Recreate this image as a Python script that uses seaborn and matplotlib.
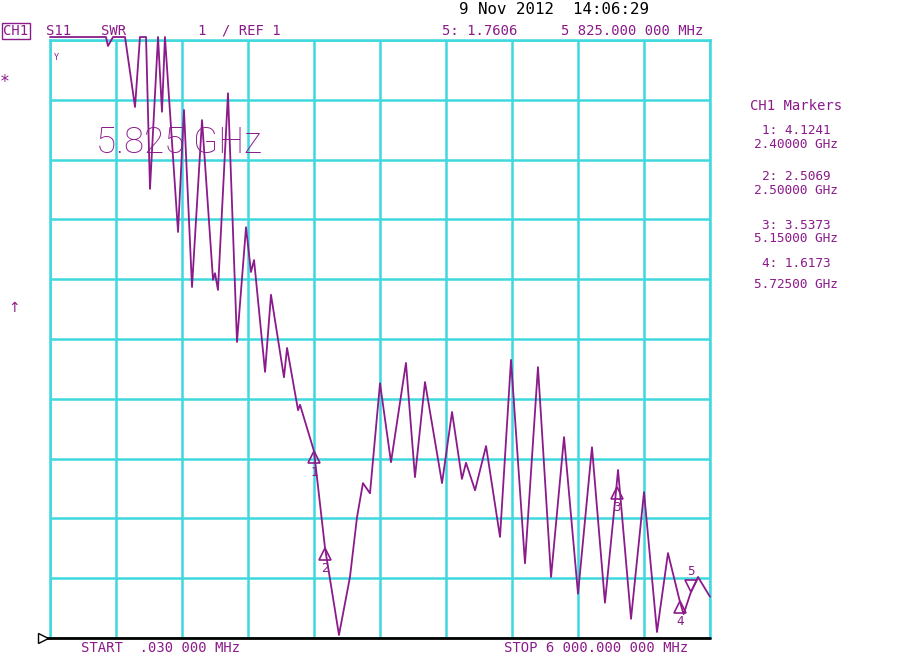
import numpy as np
import pandas as pd
import matplotlib
matplotlib.use("Agg")
import matplotlib.pyplot as plt
import matplotlib.transforms as mtransforms
import seaborn as sns

# trace: frequency (GHz) vs SWR (values >= 11 are off-scale)
freq_ghz = [0.0, 0.509, 0.527, 0.573, 0.682, 0.773, 0.818, 0.873, 0.909, 0.982,
            1.018, 1.045, 1.164, 1.218, 1.291, 1.382, 1.482, 1.50, 1.527, 1.618,
            1.700, 1.782, 1.827, 1.855, 1.955, 2.009, 2.127, 2.155, 2.255, 2.273,
            2.40, 2.50, 2.627, 2.727, 2.791, 2.845, 2.909, 3.0, 3.1, 3.236,
            3.318, 3.409, 3.564, 3.655, 3.745, 3.782, 3.864, 3.964, 4.091, 4.191,
            4.318, 4.436, 4.555, 4.673, 4.80, 4.927, 5.045, 5.15, 5.164, 5.282,
            5.40, 5.518, 5.618, 5.725, 5.76, 5.825, 5.891, 6.0]
swr = [11.2, 11.2, 10.9, 11.2, 11.2, 9.88, 11.2, 11.2, 8.51, 11.2,
       9.80, 11.2, 7.79, 9.83, 6.87, 9.66, 6.99, 7.10, 6.82, 10.11,
       5.95, 7.87, 7.12, 7.32, 5.45, 6.74, 5.36, 5.85, 4.81, 4.90,
       4.1241, 2.5069, 1.05, 2.02, 3.02, 3.59, 3.42, 5.26, 3.94, 5.60,
       3.69, 5.28, 3.59, 4.78, 3.66, 3.93, 3.47, 4.21, 2.69, 5.65,
       2.25, 5.53, 2.02, 4.36, 1.74, 4.19, 1.59, 3.5373, 3.81, 1.32,
       3.44, 1.10, 2.42, 1.6173, 1.40, 1.7606, 2.02, 1.69]

marker_ids = [1, 2, 3, 4, 5]
marker_freq = [2.40, 2.50, 5.15, 5.725, 5.825]
marker_swr = [4.1241, 2.5069, 3.5373, 1.6173, 1.7606]
marker_freq_labels = ["2.40000 GHz", "2.50000 GHz", "5.15000 GHz", "5.72500 GHz"]

purple = "#8b1a8b"
cyan = "#3fd8df"
mono = "DejaVu Sans Mono"

df = pd.DataFrame({"freq": freq_ghz, "swr": np.clip(swr, 1, 11.05)})

sns.set_style("white")
fig = plt.figure(figsize=(9, 6.54), dpi=100)
ax = fig.add_axes([50 / 900, 16 / 654, 660 / 900, 598 / 654])

sns.lineplot(data=df, x="freq", y="swr", ax=ax, color=purple, lw=1.3,
             clip_on=False, zorder=5)

ax.set_xlim(0, 6)
ax.set_ylim(1, 11)
ax.set_xticks(np.arange(0, 6.01, 0.6))
ax.set_yticks(np.arange(1, 11.01, 1))
ax.grid(True, color=cyan, lw=1.8)
ax.tick_params(length=0, labelbottom=False, labelleft=False)
ax.set_xlabel("")
ax.set_ylabel("")
for s in ["left", "right", "top"]:
    ax.spines[s].set_color(cyan)
    ax.spines[s].set_linewidth(1.8)
ax.spines["bottom"].set_visible(False)

# reference line and ref-level pointer
ax.plot([-0.065, 6], [1, 1], color="black", lw=2, clip_on=False, zorder=6)
ax.plot([-0.065], [1], marker=">", ms=7, mfc="white", mec="black", clip_on=False, zorder=7)

# marker triangles
up = mtransforms.offset_copy(ax.transData, fig=fig, x=0, y=-4.5, units="points")
up_lab = mtransforms.offset_copy(ax.transData, fig=fig, x=0, y=-15, units="points")
dn = mtransforms.offset_copy(ax.transData, fig=fig, x=0, y=4.5, units="points")
dn_lab = mtransforms.offset_copy(ax.transData, fig=fig, x=0, y=15, units="points")
for mid, f, v in zip(marker_ids, marker_freq, marker_swr):
    if mid == 5:
        ax.plot([f], [v], marker="v", ms=9, mfc="none", mec=purple, mew=1.2,
                transform=dn, zorder=8)
        ax.text(f, v, str(mid), transform=dn_lab, ha="center", va="center",
                color=purple, fontsize=9, family=mono, zorder=8)
    else:
        ax.plot([f], [v], marker="^", ms=9, mfc="none", mec=purple, mew=1.2,
                transform=up, zorder=8)
        ax.text(f, v, str(mid), transform=up_lab, ha="center", va="center",
                color=purple, fontsize=9, family=mono, zorder=8)


def ftext(x, y, s, **kw):
    kw.setdefault("color", purple)
    kw.setdefault("family", mono)
    kw.setdefault("fontsize", 10)
    kw.setdefault("va", "center")
    fig.text(x / 900, 1 - y / 654, s, **kw)


# header
ftext(459, 9, "9 Nov 2012  14:06:29", color="black", fontsize=11.3)
ftext(3, 31, "CH1", bbox=dict(boxstyle="square,pad=0.1", fc="none", ec=purple, lw=1))
ftext(46, 31, "S11")
ftext(101, 31, "SWR")
ftext(197, 31, "1")
ftext(222, 31, "/ REF 1")
ftext(442, 31, "5: 1.7606")
ftext(703, 31, "5 825.000 000 MHz", ha="right")

# footer
ftext(81, 648, "START  .030 000 MHz")
ftext(688, 648, "STOP 6 000.000 000 MHz", ha="right")

# left side glyphs
ftext(0, 82, "*", fontsize=12)
ftext(8, 308, "\u2191", fontsize=10, family="DejaVu Sans")
ftext(54, 58, "Y", fontsize=6)

# big marker frequency readout
ftext(96, 143, "5.825 GHz", family=["Roboto", "DejaVu Sans"], fontweight="light",
      fontsize=26.5)

# marker table
ftext(796, 106, "CH1 Markers", ha="center")
row_y = [(130, 144), (177, 190), (225, 238), (263, 285)]
for mid, v, lab, (y1, y2) in zip(marker_ids, marker_swr, marker_freq_labels, row_y):
    ftext(796, y1, f"{mid}: {v:.4f}", ha="center", fontsize=9.2)
    ftext(796, y2, lab, ha="center", fontsize=9.2)

fig.savefig("out.png", dpi=100)
